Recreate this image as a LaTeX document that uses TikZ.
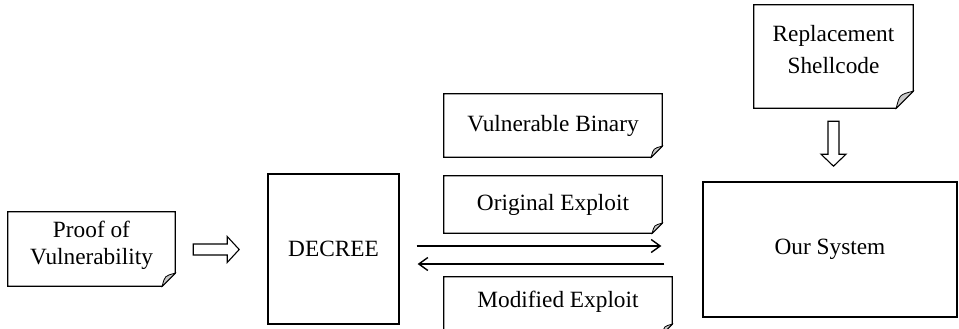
\documentclass[tikz,border=0pt]{standalone}
\usepackage{fontspec}
\setmainfont{Liberation Serif}
\usetikzlibrary{arrows.meta,calc}
\definecolor{foldgray}{RGB}{200,200,200}
\newcommand\docshape[2]{%
  \draw[outl] (#1.north west) -- (#1.north east) -- ([yshift=#2]#1.south east)
    -- ([xshift=-#2]#1.south east) -- (#1.south west) -- cycle;
  \draw[outl,fill=foldgray,line width=0.8pt] ([yshift=#2]#1.south east)
    .. controls ([xshift={-0.8*#2},yshift={0.8*#2}]#1.south east) .. ([xshift=-#2]#1.south east) -- cycle;}
\begin{document}
\begin{tikzpicture}[x=1pt,y=-1pt,
  outl/.style={line width=1.3pt,line join=miter},
  txt/.style={inner sep=0pt,font=\fontsize{23.3}{29}\selectfont,align=center},
  plainbox/.style={txt,draw,line width=1.3pt},
  hollow/.style={line width=1.1pt,fill=white,line join=miter},
  thinarrow/.style={line width=1.2pt,-{Straight Barb[length=9pt,width=13pt,line width=1.4pt]}}]
\useasboundingbox (0,0) rectangle (959,329);
\clip (0,0) rectangle (959,329);

\node[txt,minimum width=167,minimum height=74] (pov) at (91.5,249) {};
\docshape{pov}{13}
\node[txt] (povtext) at ([yshift=4]pov.center) {Proof of\\[-2pt]Vulnerability};
\node[plainbox,minimum width=131,minimum height=150] (decree) at (333.5,249) {DECREE};
\node[txt,minimum width=218,minimum height=63] (vb) at (553,125.5) {Vulnerable Binary};
\docshape{vb}{11}
\node[txt,minimum width=218,minimum height=57] (oe) at (553,204.5) {Original Exploit};
\docshape{oe}{10}
\node[txt,minimum width=228,minimum height=57] (me) at (558,305.5) {};
\docshape{me}{10}
\node[txt] (metext) at (558,302) {Modified Exploit};
\node[plainbox,minimum width=254,minimum height=135] (ours) at (830,249.5) {Our System};
\node[txt,minimum width=159,minimum height=103] (rs) at (833.5,56.5) {};
\docshape{rs}{17}
\node[txt] (rstext) at ([yshift=7]rs.center) {Replacement\\[3pt]Shellcode};

% hollow arrows
\coordinate (h1) at ($(pov.east)+(18,0.5)$);
\draw[hollow,shift={(h1)}] (0,-5.5) -- (34,-5.5) -- (34,-13) -- (46,0) -- (34,13) -- (34,5.5) -- (0,5.5) -- cycle;
\coordinate (h2) at ($(rs.south)+(0,13)$);
\draw[hollow,shift={(h2)}] (-5.5,0) -- (-5.5,33) -- (-12.5,33) -- (0,45) -- (12.5,33) -- (5.5,33) -- (5.5,0) -- cycle;

% thin arrows
\coordinate (r1) at ($(decree.east)+(17,-3)$);
\coordinate (r2) at ($(ours.west)+(-41,-3.5)$);
\coordinate (l1) at ($(ours.west)+(-38,14.5)$);
\coordinate (l2) at ($(decree.east)+(18,15)$);
\draw[thinarrow] (r1) -- (r2);
\draw[thinarrow] (l1) -- (l2);
\end{tikzpicture}
\end{document}
